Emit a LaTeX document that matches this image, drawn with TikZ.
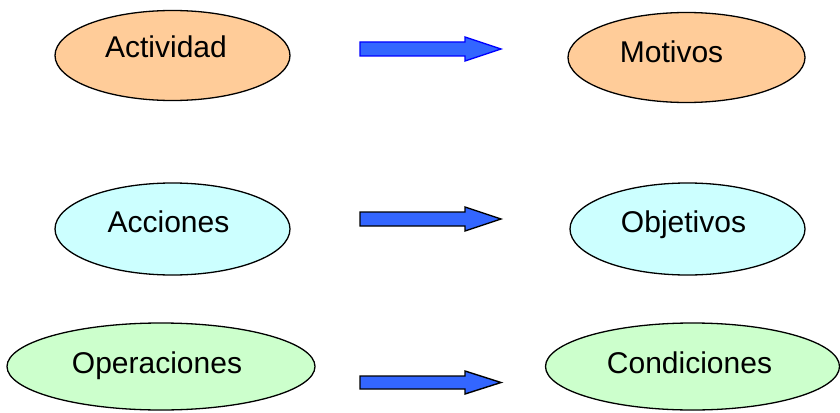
\documentclass[tikz,border=0pt]{standalone}
\usepackage{fontspec}
\setmainfont{Liberation Sans}
\usetikzlibrary{shapes.geometric}
\definecolor{peach}{HTML}{FFCC99}
\definecolor{paleblue}{HTML}{CCFFFF}
\definecolor{palegreen}{HTML}{CCFFCC}
\definecolor{arrowblue}{HTML}{3366FF}
\tikzset{
  oval/.style={ellipse, draw=black, line width=1.3pt, inner sep=0pt},
  lbl/.style={anchor=base, inner sep=0pt, font=\fontsize{30}{34}\selectfont},
  fatarrow/.style={fill=arrowblue, draw=black, line width=1.4pt, line join=miter},
}
\begin{document}
\begin{tikzpicture}[x=1pt, y=-1pt]
\useasboundingbox (0,0) rectangle (840,412);
% row 1
\node[oval, fill=peach, minimum width=235pt, minimum height=90pt] (act) at (172.5,55.5) {};
\node[lbl] (actt) at (166,58) {Actividad};
\node[oval, fill=peach, minimum width=237pt, minimum height=90pt] (mot) at (686.5,57.5) {};
\node[lbl] (mott) at (671.5,63) {Motivos};
% row 2
\node[oval, fill=paleblue, minimum width=235pt, minimum height=92pt] (acc) at (172.5,229) {};
\node[lbl] (acct) at (168.5,232) {Acciones};
\node[oval, fill=paleblue, minimum width=235pt, minimum height=92pt] (obj) at (687.5,229) {};
\node[lbl] (objt) at (683.5,232) {Objetivos};
% row 3
\node[oval, fill=palegreen, minimum width=308pt, minimum height=87pt] (ope) at (161,366.5) {};
\node[lbl] (opet) at (157,373) {Operaciones};
\node[oval, fill=palegreen, minimum width=294pt, minimum height=87pt] (con) at (692.5,366.5) {};
\node[lbl] (cont) at (689.5,373) {Condiciones};
% arrows
\coordinate (a1) at (360,49);
\coordinate (a2) at (360,219);
\coordinate (a3) at (360,382.5);
\draw[fatarrow, draw=blue] (a1) ++(0,-7) -- ++(105,0) -- ++(0,-5) -- ++(36,12) -- ++(-36,12) -- ++(0,-5) -- ++(-105,0) -- cycle;
\draw[fatarrow] (a2) ++(0,-7) -- ++(105,0) -- ++(0,-5) -- ++(36,12) -- ++(-36,12) -- ++(0,-5) -- ++(-105,0) -- cycle;
\draw[fatarrow] (a3) ++(0,-6.5) -- ++(105,0) -- ++(0,-5) -- ++(36,11.5) -- ++(-36,11.5) -- ++(0,-5) -- ++(-105,0) -- cycle;
\end{tikzpicture}
\end{document}
